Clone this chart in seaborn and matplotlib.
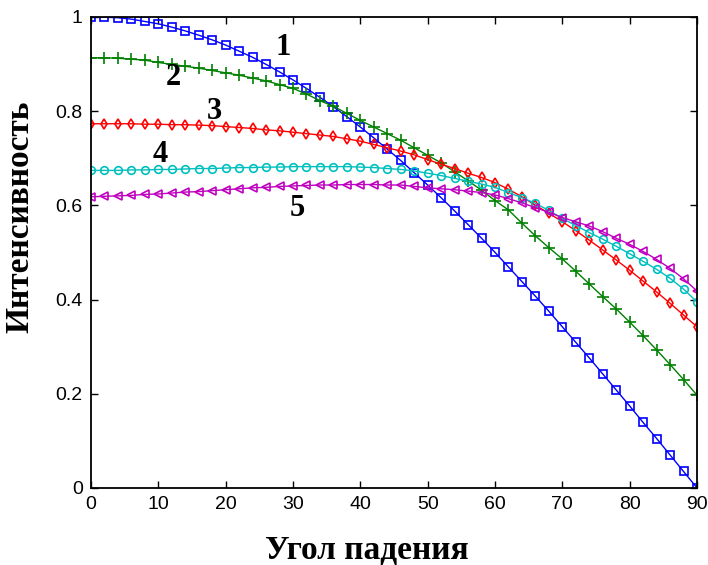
import numpy as np
import pandas as pd
import matplotlib
matplotlib.use("Agg")
import matplotlib.pyplot as plt
import seaborn as sns

# ==========================
# DATA
# ==========================
angles = list(range(0, 91, 2))

curve1 = [1.000, 0.999, 0.998, 0.995, 0.990, 0.985, 0.978, 0.970, 0.961, 0.951,
          0.940, 0.927, 0.914, 0.899, 0.883, 0.866, 0.848, 0.829, 0.809, 0.788,
          0.766, 0.743, 0.719, 0.695, 0.669, 0.643, 0.616, 0.588, 0.559, 0.530,
          0.500, 0.469, 0.438, 0.407, 0.375, 0.342, 0.309, 0.276, 0.242, 0.208,
          0.174, 0.139, 0.105, 0.070, 0.035, 0.000]

curve2 = [0.913, 0.913, 0.912, 0.910, 0.908, 0.903, 0.899, 0.895, 0.891, 0.886,
          0.881, 0.876, 0.870, 0.864, 0.856, 0.848, 0.836, 0.822, 0.810, 0.795,
          0.780, 0.766, 0.752, 0.738, 0.722, 0.706, 0.690, 0.671, 0.652, 0.632,
          0.610, 0.590, 0.562, 0.535, 0.510, 0.486, 0.460, 0.433, 0.406, 0.380,
          0.352, 0.323, 0.293, 0.262, 0.230, 0.197]

curve3 = [0.773, 0.773, 0.773, 0.773, 0.772, 0.772, 0.771, 0.771, 0.770, 0.769,
          0.767, 0.765, 0.763, 0.760, 0.758, 0.755, 0.752, 0.749, 0.746, 0.741,
          0.736, 0.729, 0.722, 0.715, 0.707, 0.697, 0.687, 0.678, 0.668, 0.659,
          0.648, 0.634, 0.618, 0.600, 0.583, 0.565, 0.546, 0.526, 0.505, 0.484,
          0.462, 0.439, 0.416, 0.392, 0.367, 0.342]

curve4 = [0.674, 0.674, 0.674, 0.675, 0.675, 0.676, 0.676, 0.677, 0.678, 0.678,
          0.679, 0.680, 0.680, 0.681, 0.681, 0.682, 0.682, 0.682, 0.682, 0.682,
          0.681, 0.680, 0.678, 0.676, 0.673, 0.668, 0.663, 0.657, 0.651, 0.645,
          0.638, 0.627, 0.616, 0.604, 0.589, 0.572, 0.557, 0.542, 0.528, 0.513,
          0.497, 0.481, 0.464, 0.445, 0.422, 0.395]

curve5 = [0.618, 0.619, 0.620, 0.621, 0.623, 0.624, 0.626, 0.628, 0.629, 0.631,
          0.633, 0.635, 0.637, 0.638, 0.640, 0.641, 0.642, 0.643, 0.643, 0.644,
          0.644, 0.644, 0.643, 0.643, 0.640, 0.637, 0.635, 0.633, 0.630, 0.627,
          0.622, 0.614, 0.605, 0.595, 0.585, 0.574, 0.565, 0.556, 0.544, 0.530,
          0.517, 0.502, 0.485, 0.466, 0.444, 0.418]

series_names = ["1", "2", "3", "4", "5"]
series_values = [curve1, curve2, curve3, curve4, curve5]

xticks = [0, 10, 20, 30, 40, 50, 60, 70, 80, 90]
yticks = [0, 0.2, 0.4, 0.6, 0.8, 1]
ytick_labels = ["0", "0.2", "0.4", "0.6", "0.8", "1"]

# curve number labels: (x, y) in data units
label_pos = [(28.5, 0.935), (12.2, 0.872), (18.3, 0.80), (10.3, 0.707), (30.6, 0.594)]

# ==========================
# STYLE
# ==========================
sns.set_theme(style="ticks")
plt.rcParams["font.family"] = ["Liberation Sans", "DejaVu Sans"]
plt.rcParams["xtick.direction"] = "in"
plt.rcParams["ytick.direction"] = "in"
for key in ["text.color", "axes.labelcolor", "xtick.color", "ytick.color",
            "xtick.labelcolor", "ytick.labelcolor"]:
    plt.rcParams[key] = "black"

colors = ["#0000ff", "#008000", "#ff0000", "#00bfbf", "#bf00bf"]
markers = ["s", "+", "d", "o", "<"]
msizes = [5.5, 8, 5.5, 5.5, 5.5]

# ==========================
# PLOT
# ==========================
fig = plt.figure(figsize=(7.08, 5.65), dpi=100)
ax = fig.add_axes([0.1285, 0.1363, 0.856, 0.834])

for name, vals, col, mk, ms in zip(series_names, series_values, colors, markers, msizes):
    df = pd.DataFrame({"angle": angles, "value": vals})
    sns.lineplot(
        data=df, x="angle", y="value", ax=ax,
        color=col, linewidth=1.0,
        marker=mk, markersize=ms,
        markerfacecolor="none",
        markeredgecolor=col,
        markeredgewidth=1.2,
    )

for name, (lx, ly) in zip(series_names, label_pos):
    ax.text(lx, ly, name, fontsize=22, fontweight="bold", color="black",
            family=["Liberation Serif"], ha="center", va="center")

ax.set_xlim(0, 90)
ax.set_ylim(0, 1)
ax.set_xticks(xticks)
ax.set_yticks(yticks)
ax.set_yticklabels(ytick_labels)
ax.tick_params(labelsize=14, length=5, width=1, pad=6, top=True, right=True,
               labeltop=False, labelright=False, colors="black")
for sp in ax.spines.values():
    sp.set_visible(True)
    sp.set_linewidth(1.3)
    sp.set_color("black")

ax.set_xlabel("Угол падения", fontsize=24, fontweight="bold", color="black",
              family=["Liberation Serif"])
ax.set_ylabel("Интенсивность", fontsize=24, fontweight="bold", color="black",
              family=["Liberation Serif"])
ax.xaxis.set_label_coords(0.455, -0.10)
ax.yaxis.set_label_coords(-0.092, 0.575)

fig.savefig("out.png", dpi=100)
plt.close(fig)
